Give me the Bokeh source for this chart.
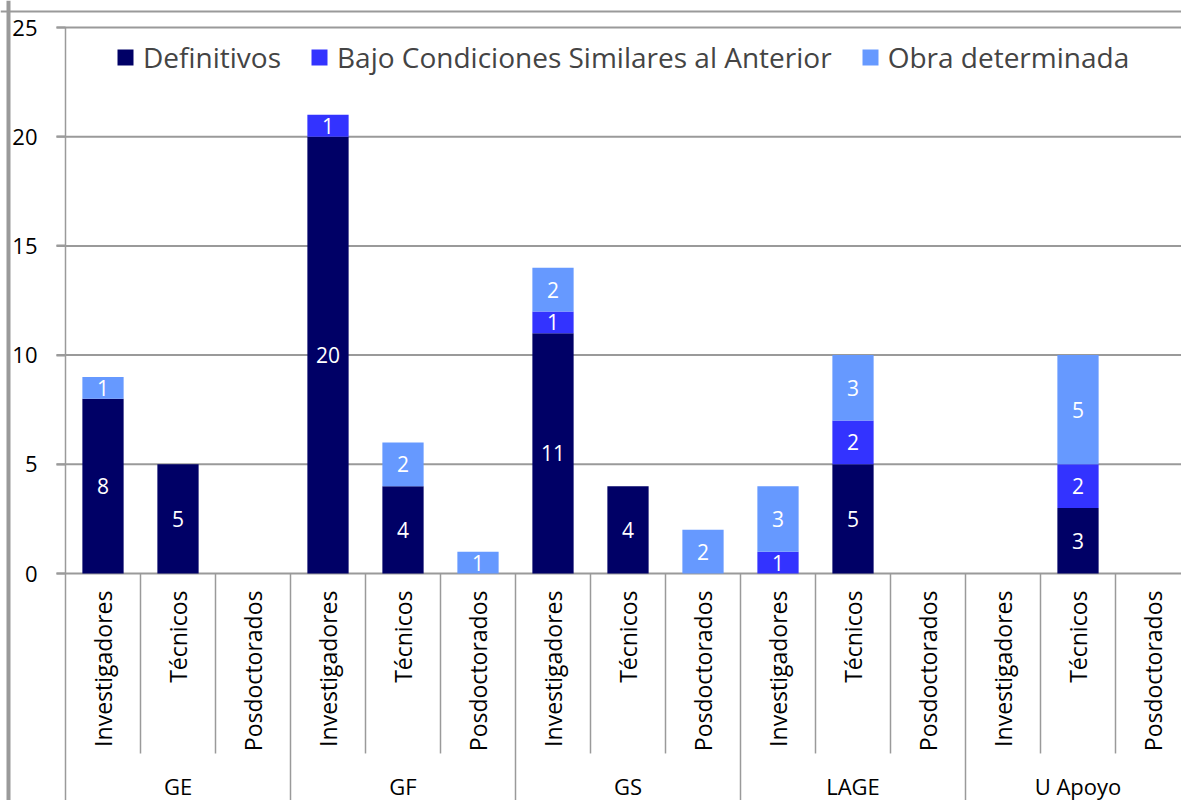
from bokeh.plotting import figure
from bokeh.models import (ColumnDataSource, Range1d, LinearAxis, FixedTicker, Span,
                          Legend, LegendItem)
from bokeh.embed import file_html
from bokeh.resources import INLINE
from bokeh.core.properties import value
import math

# ---------------- data ----------------
groups = ["GE", "GF", "GS", "LAGE", "U Apoyo"]
roles = ["Investigadores", "Técnicos", "Posdoctorados"]
series = ["Definitivos", "Bajo Condiciones Similares al Anterior", "Obra determinada"]
definitivos = [8, 5, 0, 20, 4, 0, 11, 4, 0, 0, 5, 0, 0, 3, 0]
bajo = [0, 0, 0, 1, 0, 0, 1, 0, 0, 1, 2, 0, 0, 2, 0]
obra = [1, 0, 0, 0, 2, 1, 2, 0, 2, 3, 3, 0, 0, 5, 0]
y_ticks = [0, 5, 10, 15, 20, 25]
colors = ["#000066", "#3333FF", "#6699FF"]

FONT = "Open Sans"
GRAY = "#9a9a9a"

n = len(groups) * len(roles)
xs = [i + 0.5 for i in range(n)]
src = ColumnDataSource(dict(x=xs, d=definitivos, b=bajo, o=obra))

W, H = 1181, 800
PX_X, PX_Y = 75.0, 21.84
X0, X1 = -65 / PX_X, (W - 65) / PX_X
Y0, Y1 = -(H - 573) / PX_Y, 25 + 27 / PX_Y

p = figure(width=W, height=H, output_backend="svg", toolbar_location=None,
           x_range=Range1d(X0, X1), y_range=Range1d(Y0, Y1),
           x_axis_type=None, y_axis_type=None, min_border=0,
           outline_line_color=None, background_fill_color="white",
           border_fill_color="white")

# grid lines (ticks extend a bit left of axis)
p.segment(x0=[-9 / PX_X] * len(y_ticks), y0=y_ticks, x1=[X1] * len(y_ticks), y1=y_ticks,
          line_color=GRAY, line_width=2)

# bars
rs = p.vbar_stack(["d", "b", "o"], x="x", width=0.55, fill_color=colors,
                  line_color=None, source=src)

# value labels
lx, ly, lt = [], [], []
for i in range(n):
    base = 0
    for v in (definitivos[i], bajo[i], obra[i]):
        if v > 0:
            lx.append(xs[i]); ly.append(base + v / 2); lt.append(str(v))
        base += v
p.text(x=lx, y=ly, text=lt, text_color="white", text_font=value(FONT),
       text_font_size="21px", text_align="center", text_baseline="middle")

# y axis drawn at x = 0
yaxis = LinearAxis(fixed_location=0, ticker=FixedTicker(ticks=y_ticks),
                   axis_line_color=None, major_tick_line_color=GRAY,
                   major_tick_line_width=2, major_tick_out=9, major_tick_in=0,
                   minor_tick_line_color=None, major_label_standoff=19,
                   major_label_text_font=FONT, major_label_text_font_size="22px",
                   major_label_text_color="black")
p.add_layout(yaxis, "left")

# category separators
sep_x0, sep_y0, sep_y1 = [], [], []
for k in range(n + 1):
    if k == 0:
        sep_x0.append(k); sep_y0.append(25); sep_y1.append(Y0)
    elif k % 3 == 0:
        sep_x0.append(k); sep_y0.append(0); sep_y1.append(Y0)
    else:
        sep_x0.append(k); sep_y0.append(0); sep_y1.append(-8.24)
p.segment(x0=sep_x0, y0=sep_y0, x1=sep_x0, y1=sep_y1, line_color=GRAY, line_width=1.5)

# category labels
sub_labels = [roles[i % 3] for i in range(n)]
p.text(x=xs, y=[-0.78] * n, text=sub_labels, angle=math.pi / 2,
       text_font=value(FONT), text_font_size="23px", text_color="black",
       text_align="right", text_baseline="middle")
gx = [3 * j + 1.5 for j in range(len(groups))]
p.text(x=gx, y=[-9.72] * len(groups), text=groups, text_font=value(FONT),
       text_font_size="22px", text_color="black", text_align="center",
       text_baseline="middle")

# outer chart border (left and top)
p.add_layout(Span(location=-57 / PX_X, dimension="height", line_color=GRAY, line_width=4))
p.add_layout(Span(location=25 + 16 / PX_Y, dimension="width", line_color=GRAY, line_width=2))

legend = Legend(items=[LegendItem(label=s, renderers=[r]) for s, r in zip(series, rs)],
                orientation="horizontal", location=(115, 724), padding=0, margin=0,
                spacing=28, label_standoff=8, glyph_width=20, glyph_height=20,
                label_text_font=FONT, label_text_font_size="28px",
                border_line_color=None, background_fill_alpha=0)
p.add_layout(legend)

open("out.html", "w").write(file_html(p, INLINE))
